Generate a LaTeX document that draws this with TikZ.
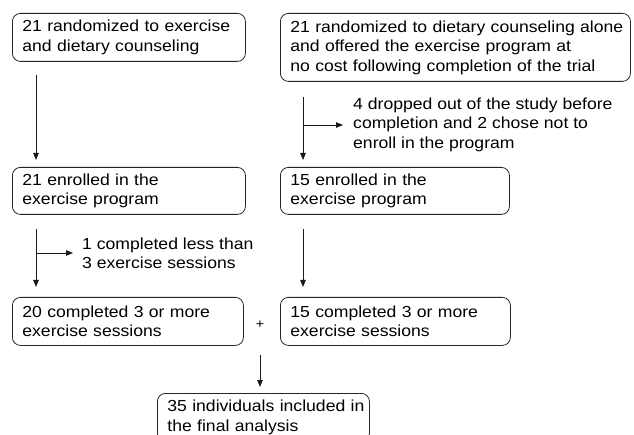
\documentclass[tikz,border=0pt]{standalone}
\usepackage{fontspec}
\setmainfont{Liberation Sans}[FakeStretch=1.1]
\usetikzlibrary{arrows.meta,calc}
\begin{document}
\begin{tikzpicture}[x=1pt,y=-1pt,
  box/.style={draw=black!85, line width=0.8pt, rounded corners=8pt, anchor=north west,
    inner xsep=10pt, inner ysep=0pt, align=left,
    font=\fontsize{16pt}{19.5pt}\selectfont},
  note/.style={anchor=west, inner sep=0pt, align=left,
    font=\fontsize{16pt}{19.5pt}\selectfont},
  arr/.style={draw=black!90, line width=0.9pt, -{Triangle[length=7pt,width=5.5pt]}}]
\fill[white] (0,0) rectangle (634,435);
\useasboundingbox (0,0) rectangle (634,435);
\clip (0,0) rectangle (634,435);

\node[box, text width=213pt, minimum height=48pt] (b1) at (12,13)
  {\mbox{21 randomized to exercise}\\\mbox{and dietary counseling}};
\node[box, text width=330pt, minimum height=68pt] (b2) at (280,13)
  {\mbox{21 randomized to dietary counseling alone}\\\mbox{and offered the exercise program at}\\\mbox{no cost following completion of the trial}};
\node[box, text width=213pt, minimum height=47pt] (b3) at (12,167)
  {\mbox{21 enrolled in the}\\\mbox{exercise program}};
\node[box, text width=209pt, minimum height=47pt] (b4) at (280,167)
  {\mbox{15 enrolled in the}\\\mbox{exercise program}};
\node[box, text width=211pt, minimum height=48pt] (b5) at (12,297)
  {\mbox{20 completed 3 or more}\\\mbox{exercise sessions}};
\node[box, text width=210pt, minimum height=48pt] (b6) at (280,297)
  {\mbox{15 completed 3 or more}\\\mbox{exercise sessions}};
\node[box, text width=192pt, minimum height=48pt] (b7) at (157,393)
  {\mbox{35 individuals included in}\\\mbox{the final analysis}};

\node[note] (drop) at (353,124.5)
  {4 dropped out of the study before\\completion and 2 chose not to\\enroll in the program};
\node[note] (less) at (82,253.5)
  {1 completed less than\\3 exercise sessions};
\node[inner sep=0pt, font=\fontsize{13pt}{15pt}\selectfont] (plus) at (260,325) {+};

% left column
\draw[arr] ([xshift=24pt,yshift=-13pt]b1.south west) -- ([xshift=24pt,yshift=7pt]b3.north west);
\draw[arr] ([xshift=24pt,yshift=-14pt]b3.south west) -- ([xshift=24pt,yshift=10pt]b5.north west);
\coordinate (br2) at (36,253);
\draw[arr, shorten >=9pt] (br2) -- (br2 -| less.west);

% right column
\draw[arr] ([xshift=23pt,yshift=-15pt]b2.south west) -- ([xshift=23pt,yshift=7pt]b4.north west);
\coordinate (br1) at (303,125);
\draw[arr, shorten >=10pt] (br1) -- (br1 -| drop.west);
\draw[arr] ([xshift=23pt,yshift=-14pt]b4.south west) -- ([xshift=23pt,yshift=10pt]b6.north west);

% merge
\draw[arr] ([yshift=-30pt]plus.center) -- ([yshift=6pt]b7.north -| plus.center);
\end{tikzpicture}
\end{document}
